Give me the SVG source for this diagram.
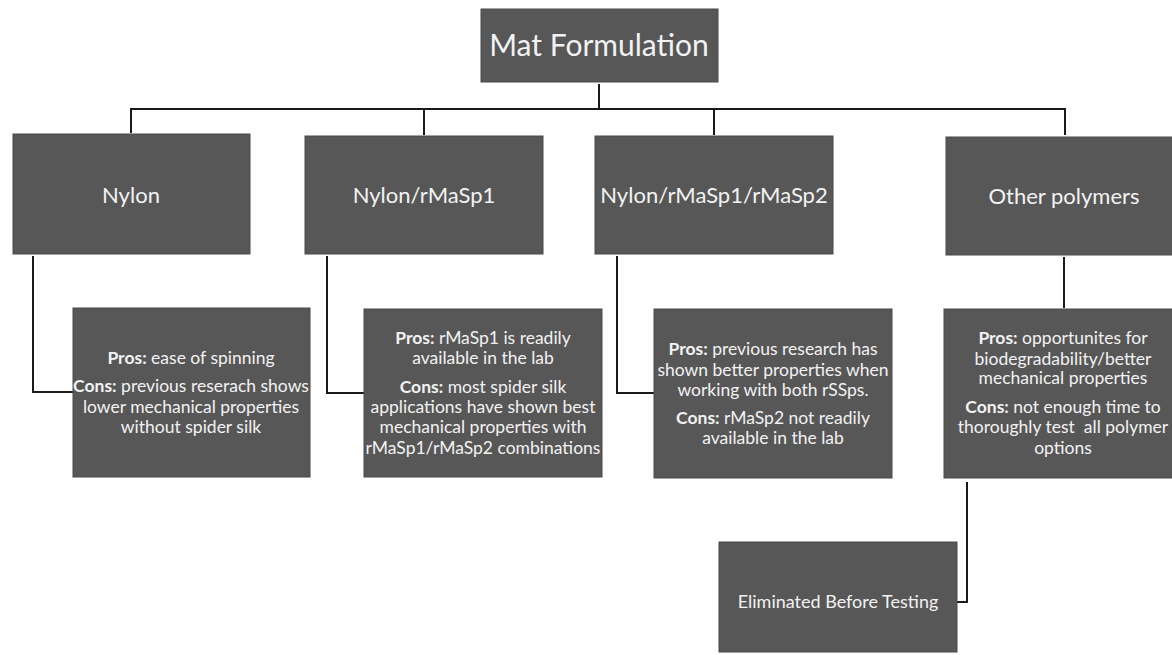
<svg xmlns="http://www.w3.org/2000/svg" width="1172" height="655" viewBox="0 0 1172 655">
<style>
.box{fill:#575757;stroke:#4a4a4a;stroke-width:1}
.t{font-family:Lato,"Open Sans","Liberation Sans",sans-serif;fill:#f2f2f2;text-anchor:middle}
.big{font-size:30px}
.mid{font-size:22px}
.sm{font-size:17.5px}
.el{font-size:18px}
.b{font-weight:bold}
.c{fill:none;stroke:#1a1a1a;stroke-width:2}
</style>
<rect width="1172" height="655" fill="#ffffff"/>
<g id="connectors">
<path class="c" d="M599 84V109M131 133V109H1065V135M424 109V135M714 109V135"/>
<path class="c" d="M33 256V392H73"/>
<path class="c" d="M327 256V393H364"/>
<path class="c" d="M617 256V393H654"/>
<path class="c" d="M1064 257V308"/>
<path class="c" d="M967 482V602H957"/>
</g>
<g id="mat">
<rect class="box" x="481" y="9" width="237" height="73"/>
<text class="t big" x="599" y="56">Mat Formulation</text>
</g>
<g id="nylon">
<rect class="box" x="13" y="134" width="237" height="120"/>
<text class="t mid" x="131" y="203">Nylon</text>
</g>
<g id="nylon-rmasp1">
<rect class="box" x="305" y="136" width="238" height="118"/>
<text class="t mid" x="424" y="203">Nylon/rMaSp1</text>
</g>
<g id="nylon-rmasp1-rmasp2">
<rect class="box" x="595" y="136" width="238" height="118"/>
<text class="t mid" x="714" y="203">Nylon/rMaSp1/rMaSp2</text>
</g>
<g id="other-polymers">
<rect class="box" x="946" y="137" width="238" height="118"/>
<text class="t mid" x="1064" y="204">Other polymers</text>
</g>
<g id="nylon-proscons">
<rect class="box" x="73" y="308" width="237" height="169"/>
<text class="t sm" x="191" y="364"><tspan class="b">Pros:</tspan> ease of spinning</text>
<text class="t sm" x="191" y="392"><tspan class="b">Cons:</tspan> previous reserach shows</text>
<text class="t sm" x="191" y="413">lower mechanical properties</text>
<text class="t sm" x="191" y="433">without spider silk</text>
</g>
<g id="rmasp1-proscons">
<rect class="box" x="364" y="309" width="238" height="168"/>
<text class="t sm" x="483" y="344"><tspan class="b">Pros:</tspan> rMaSp1 is readily</text>
<text class="t sm" x="483" y="364">available in the lab</text>
<text class="t sm" x="483" y="393"><tspan class="b">Cons:</tspan> most spider silk</text>
<text class="t sm" x="483" y="413">applications have shown best</text>
<text class="t sm" x="483" y="433">mechanical properties with</text>
<text class="t sm" x="483" y="454">rMaSp1/rMaSp2 combinations</text>
</g>
<g id="rmasp2-proscons">
<rect class="box" x="654" y="309" width="238" height="169"/>
<text class="t sm" x="773" y="355"><tspan class="b">Pros:</tspan> previous research has</text>
<text class="t sm" x="773" y="376">shown better properties when</text>
<text class="t sm" x="773" y="396">working with both rSSps.</text>
<text class="t sm" x="773" y="424"><tspan class="b">Cons:</tspan> rMaSp2 not readily</text>
<text class="t sm" x="773" y="444">available in the lab</text>
</g>
<g id="other-proscons">
<rect class="box" x="944" y="309" width="240" height="169"/>
<text class="t sm" x="1063" y="344"><tspan class="b">Pros:</tspan> opportunites for</text>
<text class="t sm" x="1063" y="365">biodegradability/better</text>
<text class="t sm" x="1063" y="384">mechanical properties</text>
<text class="t sm" x="1063" y="413"><tspan class="b">Cons:</tspan> not enough time to</text>
<text class="t sm" x="1063" y="433" xml:space="preserve">thoroughly test  all polymer</text>
<text class="t sm" x="1063" y="454">options</text>
</g>
<g id="eliminated">
<rect class="box" x="719" y="542" width="238" height="110"/>
<text class="t el" x="838" y="608">Eliminated Before Testing</text>
</g>
</svg>
